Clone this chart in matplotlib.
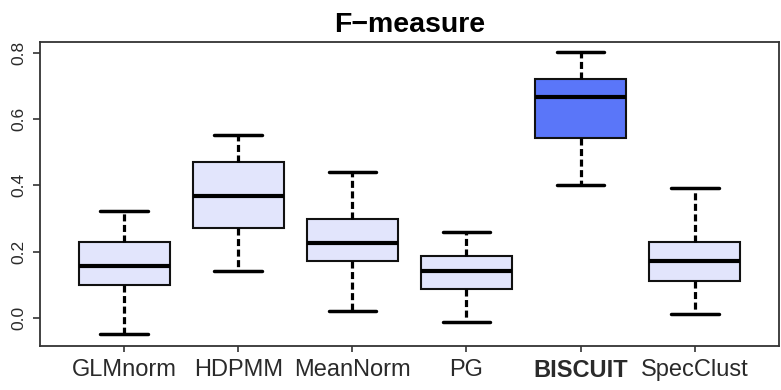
import matplotlib

matplotlib.use("Agg")
import matplotlib.pyplot as plt  # noqa: E402

plt.rcParams["font.family"] = ["Liberation Sans", "DejaVu Sans"]

methods = ["GLMnorm", "HDPMM", "MeanNorm", "PG", "BISCUIT", "SpecClust"]
whislo = [-0.050, 0.142, 0.020, -0.014, 0.402, 0.010]
q1 = [0.100, 0.271, 0.172, 0.087, 0.544, 0.111]
med = [0.157, 0.367, 0.225, 0.142, 0.667, 0.172]
q3 = [0.230, 0.471, 0.299, 0.185, 0.722, 0.230]
whishi = [0.321, 0.552, 0.441, 0.258, 0.803, 0.392]
highlight = "BISCUIT"

LIGHT = "#e2e5fc"
BLUE = "#5a76f9"

stats = [
    {"label": m, "whislo": lo, "q1": a, "med": md, "q3": b, "whishi": hi, "fliers": []}
    for m, lo, a, md, b, hi in zip(methods, whislo, q1, med, q3, whishi)
]

fig = plt.figure(figsize=(7.81, 3.90), dpi=100)
ax = fig.add_axes([0.0512, 0.1141, 0.9462, 0.7782])

bp = ax.bxp(
    stats,
    positions=range(1, len(methods) + 1),
    widths=0.8,
    capwidths=0.42,
    patch_artist=True,
    showfliers=False,
    boxprops=dict(edgecolor="#111111", linewidth=1.5),
    medianprops=dict(color="#000000", linewidth=3.0, solid_capstyle="butt"),
    whiskerprops=dict(color="#000000", linewidth=2.3, linestyle=(0, (2.2, 1.1))),
    capprops=dict(color="#000000", linewidth=2.5, solid_capstyle="round"),
)
for patch, m in zip(bp["boxes"], methods):
    patch.set_facecolor(BLUE if m == highlight else LIGHT)

ax.set_xlim(0.26, 6.74)
ax.set_ylim(-0.084, 0.833)
ax.set_yticks([0.0, 0.2, 0.4, 0.6, 0.8])
ax.set_yticklabels(["0.0", "0.2", "0.4", "0.6", "0.8"], rotation=90, va="center", fontsize=12.5, color="#2a2a2a")
ax.set_xticks(range(1, len(methods) + 1))
ax.set_xticklabels(methods, fontsize=17, color="#2a2a2a")
for lbl in ax.get_xticklabels():
    if lbl.get_text() == highlight:
        lbl.set_fontweight("bold")
ax.tick_params(axis="y", length=5, width=1.2, pad=5, color="#333333")
ax.tick_params(axis="x", length=4, width=1.2, pad=6, color="#333333")
for s in ax.spines.values():
    s.set_linewidth(1.3)
    s.set_color("#333333")

ax.set_title("F\u2212measure", fontsize=20.5, fontweight="bold", pad=7)

fig.savefig("out.png", dpi=100)
